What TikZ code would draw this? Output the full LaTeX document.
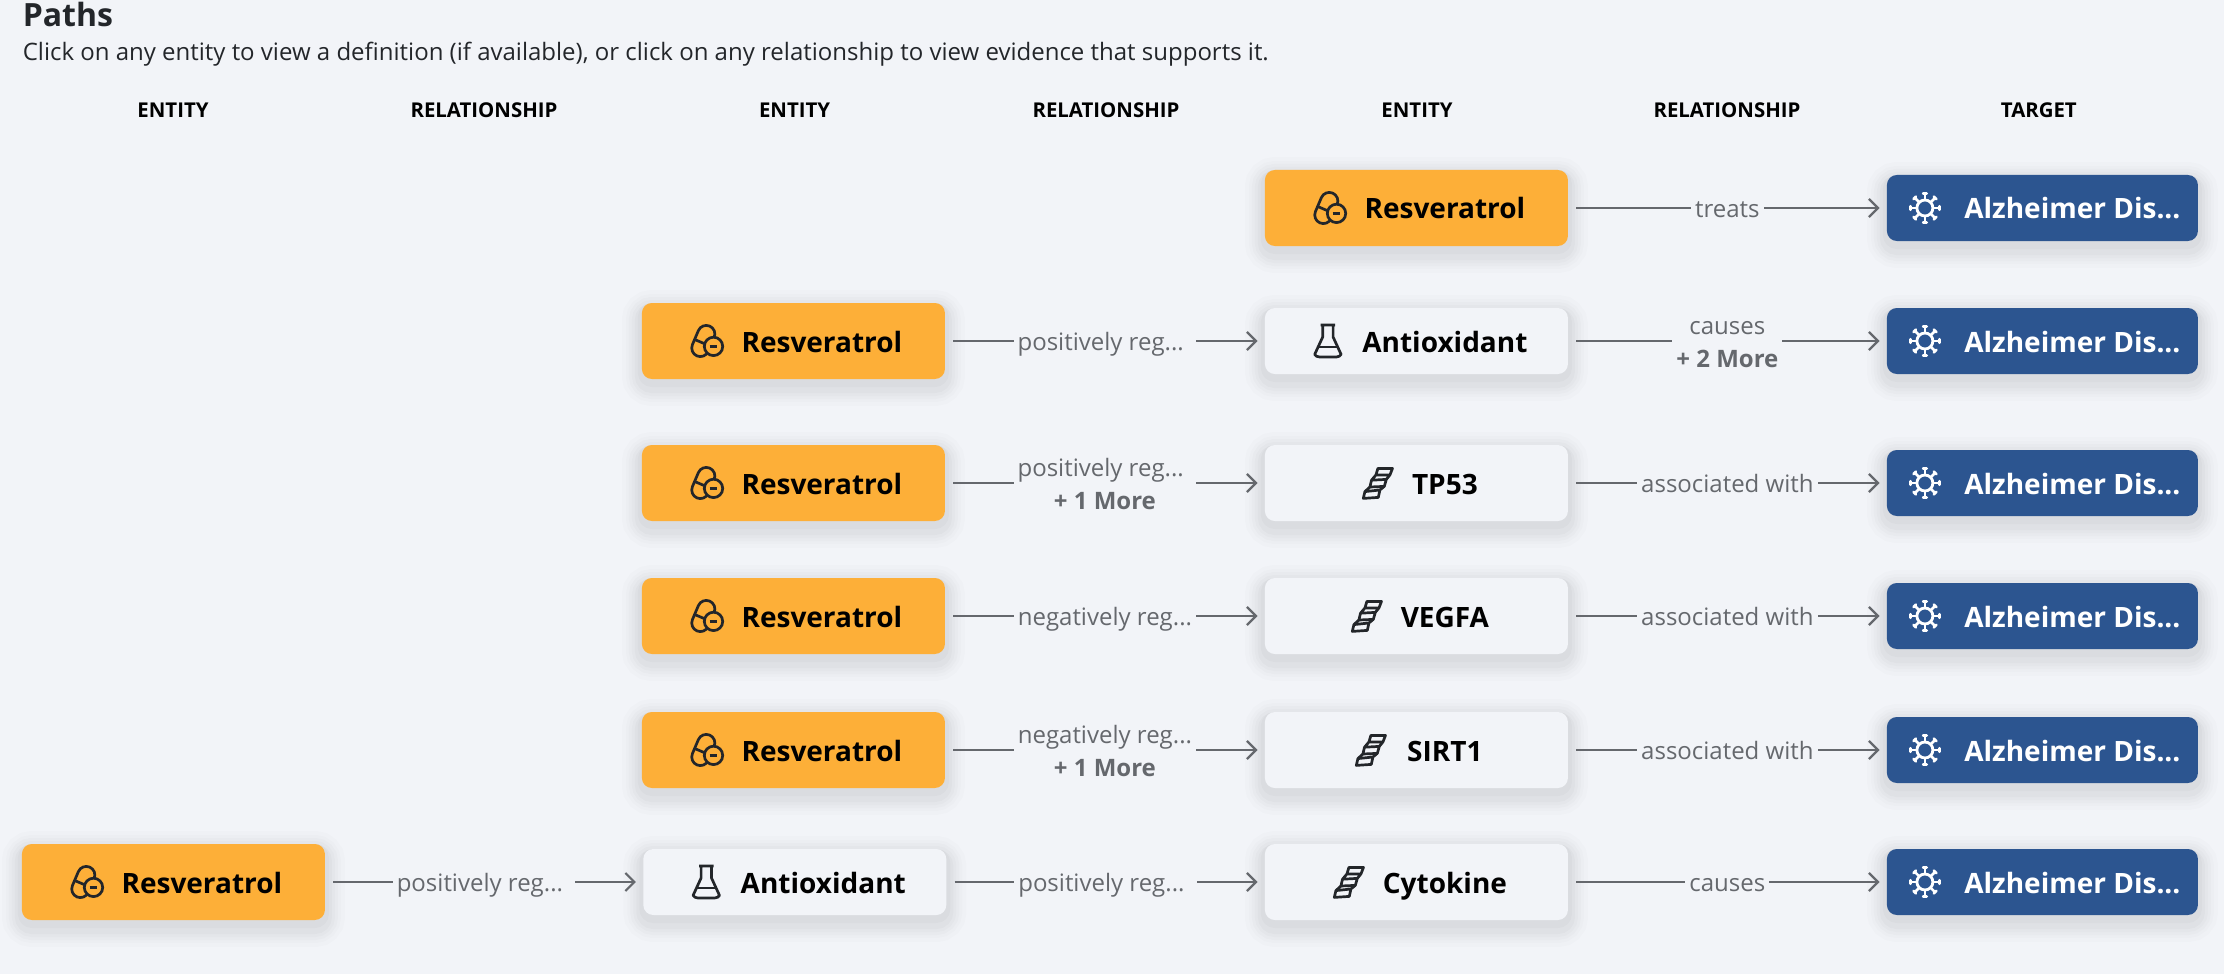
\documentclass[tikz,border=0pt]{standalone}
\usepackage{fontspec}
\setmainfont{Open Sans}
\usetikzlibrary{arrows.meta,calc}
\definecolor{pagebg}{HTML}{F2F4F8}
\definecolor{drugcol}{HTML}{FDAF38}
\definecolor{targetcol}{HTML}{2C5590}
\definecolor{relcol}{HTML}{65686D}
\definecolor{inkcol}{HTML}{23262A}
\tikzset{
  softshadow/.style={
    preaction={draw=black,draw opacity=.01,line width=20,transform canvas={yshift=-3.5}},
    preaction={draw=black,draw opacity=.012,line width=16,transform canvas={yshift=-3.5}},
    preaction={draw=black,draw opacity=.015,line width=13,transform canvas={yshift=-3.5}},
    preaction={draw=black,draw opacity=.015,line width=10,transform canvas={yshift=-3.5}},
    preaction={draw=black,draw opacity=.02,line width=7,transform canvas={yshift=-3.5}},
    preaction={draw=black,draw opacity=.02,line width=4,transform canvas={yshift=-2}}},
  boxbase/.style={rounded corners=5pt,softshadow,inner sep=0pt,text height=11pt,text depth=0pt,
    font=\fontsize{14}{16}\selectfont\bfseries},
  entity/.style={boxbase,minimum width=151.5pt,execute at begin node={\hspace*{28.5pt}}},
  drugbox/.style={entity,fill=drugcol,minimum height=38pt},
  smallbox/.style={entity,fill=pagebg,minimum height=33pt},
  tallbox/.style={entity,fill=pagebg,minimum height=38pt},
  targetbox/.style={boxbase,fill=targetcol,text=white,minimum width=155.5pt,minimum height=33pt,
    execute at begin node={\hspace*{30pt}}},
  colhead/.style={font=\fontsize{10.2}{12}\selectfont\bfseries},
  rel/.style={draw=relcol,line width=1.4pt,-{Straight Barb[length=4.5pt,width=9pt,line width=1.1pt]},
    shorten <=4pt,shorten >=3.5pt},
  rellabel/.style={midway,yshift=-1.4pt,fill=pagebg,text=relcol,inner xsep=2pt,inner ysep=0pt,align=center,
    font=\fontsize{12}{16.4}\selectfont,execute at begin node={\strut},execute at end node={\strut}},
  rellabeltwo/.style={rellabel,yshift=-1.4pt},
  pillicon/.pic={
    \draw[inkcol,line width=1.35pt,shift={(-1.8,0)},rotate=-23] (-4.3,-3.8) -- (-4.3,3.8) arc (180:0:4.3)
      -- (4.3,-3.8) arc (0:-180:4.3) -- cycle (-4.3,-1) -- (4.3,-1);
    \draw[inkcol,line width=1.35pt,fill=drugcol] (3.3,-2.7) circle (4.6);
    \draw[inkcol,line width=1.5pt] (1.4,-2.7) -- (5.2,-2.7);},
  flaskicon/.pic={
    \draw[inkcol,line width=1.35pt,line join=round] (-3.6,8) -- (3.6,8) (-2.6,8) -- (-2.6,2) -- (-6.6,-6.7)
      arc (210:270:2.5) -- (4.43,-7.95) arc (270:330:2.5) -- (2.6,2) -- (2.6,8);
    \draw[inkcol,line width=1.35pt] (-4.9,-3) -- (4.9,-3);},
  helixicon/.pic={
    \draw[inkcol,line width=1.35pt,line join=round] (-1,4) -- (0,7.3) -- (7.3,7.3) -- (6,4) -- cycle
      (-3.2,1.4) -- (4.2,1.8) -- (3.2,-1.7) -- (-4,-2) -- cycle
      (-6.5,-4.3) -- (1,-3.5) -- (.2,-7.2) -- (-7.3,-7.7) -- cycle
      (-1,4) -- (-3.2,1.4) (6,4) -- (4.2,1.8) (-4,-2) -- (-6.5,-4.3) (3.2,-1.7) -- (1,-3.5);},
  virusicon/.pic={
    \draw[white,line width=1.4pt] (0,0) circle (4);
    \foreach \a in {0,45,...,315}{
      \draw[white,line width=1.3pt,line cap=round,rotate=\a] (0,4) -- (0,7.2) (-.9,7.2) -- (.9,7.2);}}
}
\begin{document}
\begin{tikzpicture}[x=1pt,y=1pt]
   \useasboundingbox[fill=pagebg] (0,0) rectangle (1112,-487);

   \node[anchor=base west,font=\fontsize{16}{18}\selectfont\bfseries,text=inkcol,inner sep=0pt] (title) at (11.2,-13.5) {Paths};
   \node[anchor=base west,font=\fontsize{12}{14}\selectfont,text=inkcol,inner sep=0pt] (subtitle) at (11.2,-30.2) {Click on any entity to view a definition (if available), or click on any relationship to view evidence that supports it.};

   \node[colhead] (h1) at (86.5,-55) {ENTITY};
   \node[colhead] (h2) at (242,-55) {RELATIONSHIP};
   \node[colhead] (h3) at (397.3,-55) {ENTITY};
   \node[colhead] (h4) at (553,-55) {RELATIONSHIP};
   \node[colhead] (h5) at (708.5,-55) {ENTITY};
   \node[colhead] (h6) at (863.5,-55) {RELATIONSHIP};
   \node[colhead] (h7) at (1019.4,-55) {TARGET};

   % row one
   \node[drugbox] (res1) at (708.2,-104) {Resveratrol};
   \node[targetbox] (alz1) at (1021.2,-104) {Alzheimer Dis...};
   \draw[rel] (res1) -- node[rellabel] {treats} (alz1);

   % row two
   \node[drugbox] (res2) at (396.7,-170.5) {Resveratrol};
   \node[smallbox] (ant2) at (708.2,-170.5) {Antioxidant};
   \node[targetbox] (alz2) at (1021.2,-170.5) {Alzheimer Dis...};
   \draw[rel] (res2) -- node[rellabel] {positively reg...\hspace*{4.2pt}} (ant2);
   \draw[rel] (ant2) -- node[rellabeltwo,yshift=-1.4pt] {causes\\\textbf{+ 2 More}} (alz2);

   % row three
   \node[drugbox] (res3) at (396.7,-241.5) {Resveratrol};
   \node[tallbox] (tp53) at (708.2,-241.5) {TP53};
   \node[targetbox] (alz3) at (1021.2,-241.5) {Alzheimer Dis...};
   \draw[rel] (res3) -- node[rellabeltwo] {positively reg...\hspace*{4.2pt}\\\textbf{+ 1 More}} (tp53);
   \draw[rel] (tp53) -- node[rellabel] {associated with} (alz3);

   % row four
   \node[drugbox] (res4) at (396.7,-308) {Resveratrol};
   \node[tallbox] (vegfa) at (708.2,-308) {VEGFA};
   \node[targetbox] (alz4) at (1021.2,-308) {Alzheimer Dis...};
   \draw[rel] (res4) -- node[rellabel] {negatively reg...} (vegfa);
   \draw[rel] (vegfa) -- node[rellabel] {associated with} (alz4);

   % row five
   \node[drugbox] (res5) at (396.7,-375) {Resveratrol};
   \node[tallbox] (sirt1) at (708.2,-375) {SIRT1};
   \node[targetbox] (alz5) at (1021.2,-375) {Alzheimer Dis...};
   \draw[rel] (res5) -- node[rellabeltwo] {negatively reg...\\\textbf{+ 1 More}} (sirt1);
   \draw[rel] (sirt1) -- node[rellabel] {associated with} (alz5);

   % row six
   \node[drugbox] (res6) at (86.7,-441) {Resveratrol};
   \node[smallbox] (ant6) at (397.4,-441) {Antioxidant};
   \node[tallbox] (cyto) at (708.2,-441) {Cytokine};
   \node[targetbox] (alz6) at (1021.2,-441) {Alzheimer Dis...};
   \draw[rel] (res6) -- node[rellabel] {positively reg...\hspace*{4.2pt}} (ant6);
   \draw[rel] (ant6) -- node[rellabel] {positively reg...\hspace*{4.2pt}} (cyto);
   \draw[rel] (cyto) -- node[rellabel] {causes} (alz6);

   % icons
   \pic at ($(res1)+(-43.25,0)$) {pillicon};
   \pic at ($(res2)+(-43.25,0)$) {pillicon};
   \pic at ($(res3)+(-43.25,0)$) {pillicon};
   \pic at ($(res4)+(-43.25,0)$) {pillicon};
   \pic at ($(res5)+(-43.25,0)$) {pillicon};
   \pic at ($(res6)+(-43.25,0)$) {pillicon};
   \pic at ($(ant2)+(-44.25,0)$) {flaskicon};
   \pic at ($(ant6)+(-44.25,0)$) {flaskicon};
   \pic at ($(tp53)+(-19.25,0)$) {helixicon};
   \pic at ($(vegfa)+(-24.75,0)$) {helixicon};
   \pic at ($(sirt1)+(-22.75,0)$) {helixicon};
   \pic at ($(cyto)+(-33.75,0)$) {helixicon};
   \pic at ($(alz1)+(-58.75,0)$) {virusicon};
   \pic at ($(alz2)+(-58.75,0)$) {virusicon};
   \pic at ($(alz3)+(-58.75,0)$) {virusicon};
   \pic at ($(alz4)+(-58.75,0)$) {virusicon};
   \pic at ($(alz5)+(-58.75,0)$) {virusicon};
   \pic at ($(alz6)+(-58.75,0)$) {virusicon};
 \end{tikzpicture}
\end{document}
